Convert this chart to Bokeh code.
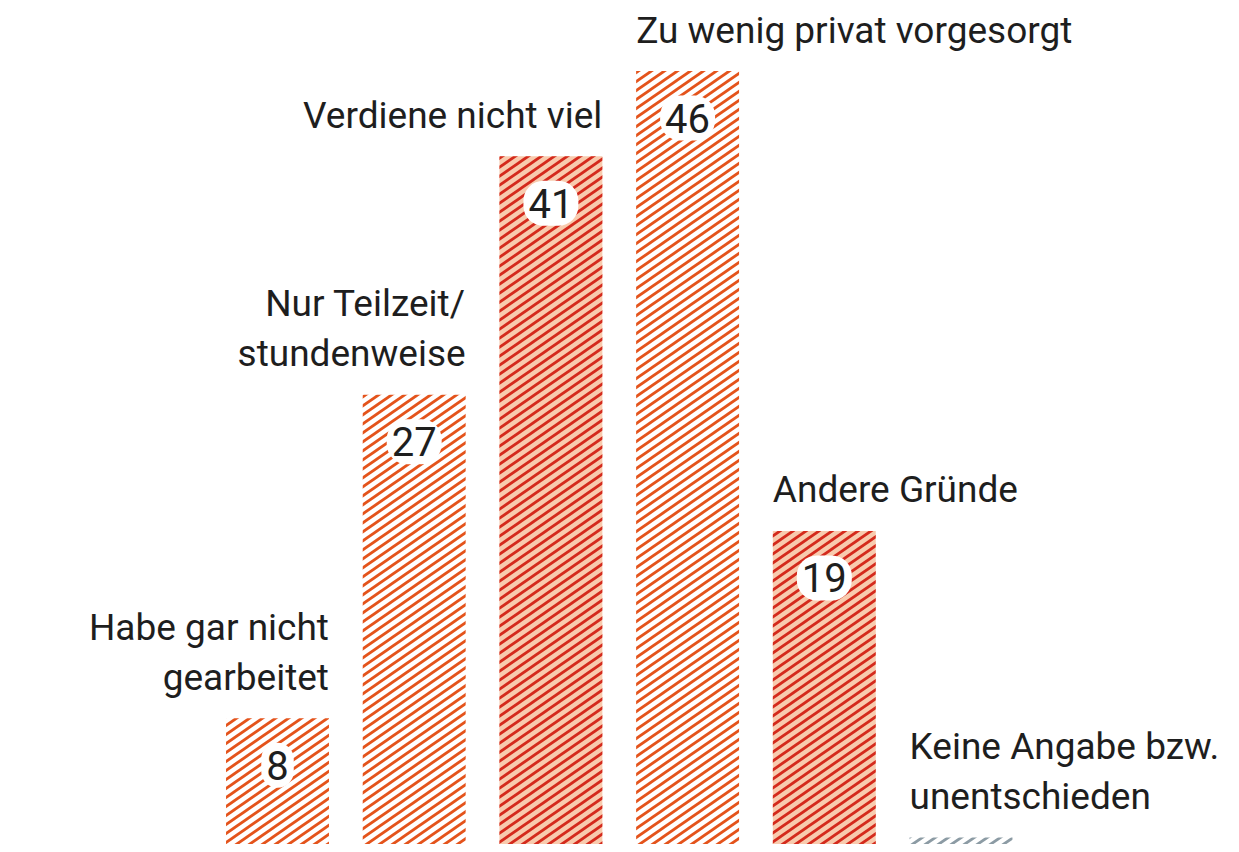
import base64
from bokeh.plotting import figure
from bokeh.models import ColumnDataSource, Range1d, ImageURLTexture
from bokeh.core.properties import value
from bokeh.embed import file_html
from bokeh.resources import INLINE

# ---- data ----
categories = [
    "Habe gar nicht\ngearbeitet",
    "Nur Teilzeit/\nstundenweise",
    "Verdiene nicht viel",
    "Zu wenig privat vorgesorgt",
    "Andere Gründe",
    "Keine Angabe bzw.\nunentschieden",
]
values = [8, 27, 41, 46, 19, 1]
value_labels = ["8", "27", "41", "46", "19", ""]

# ---- styles ----
patterns = ["o", "o", "r", "o", "r", "g"]
fill_colors = ["#ffffff", "#ffffff", "#f8cbae", "#ffffff", "#f8cbae", "#ffffff"]
pattern_colors = {"o": "#e4531b", "r": "#d42a1c", "g": "#8c9ba4"}
label_align = ["right", "right", "right", "left", "left", "left"]
FONT = "Roboto"
TEXT_COLOR = "#1e1e1e"
BAR_W = 0.753
PX_X = 136.7   # px per category step
PX_Y = 17.03   # px per value unit
W, H = 1231, 844
TW, TH, LW = 13, 9, 2.8   # hatch tile size and line width


def tile(color):
    lines = "".join(
        f'<line x1="{-TW}" y1="{TH + d + TH}" x2="{2 * TW}" y2="{d - TH}" '
        f'stroke="{color}" stroke-width="{LW}"/>'
        for d in (-TH, 0, TH)
    )
    svg = (f'<svg xmlns="http://www.w3.org/2000/svg" width="{TW}" height="{TH}" '
           f'viewBox="0 0 {TW} {TH}">{lines}</svg>')
    return "data:image/svg+xml;base64," + base64.b64encode(svg.encode()).decode()


textures = {k: ImageURLTexture(url=tile(c)) for k, c in pattern_colors.items()}

xs = list(range(len(values)))
src = ColumnDataSource(dict(x=xs, top=values, fill=fill_colors, pat=patterns))

p = figure(width=W, height=H, output_backend="svg", toolbar_location=None,
           x_range=Range1d(-277 / PX_X, (W - 277) / PX_X),
           y_range=Range1d((854 - H) / PX_Y, 854 / PX_Y),
           min_border=0, outline_line_color=None, background_fill_color="white",
           border_fill_color="white")
p.axis.visible = False
p.grid.visible = False

p.vbar(x="x", top="top", bottom=0, width=BAR_W, source=src,
       fill_color="fill", line_color=None,
       hatch_pattern="pat", hatch_extra=textures)

# category labels (one glyph per line)
lx, ly, lt, la, loff = [], [], [], [], []
for i, (cat, v, al) in enumerate(zip(categories, values, label_align)):
    lines = cat.split("\n")
    n = len(lines)
    for j, line in enumerate(lines):
        lx.append(i + BAR_W / 2 if al == "right" else i - BAR_W / 2)
        ly.append(v)
        lt.append(line)
        la.append(al)
        loff.append(-41 - 50 * (n - 1 - j))
lsrc = ColumnDataSource(dict(x=lx, y=ly, t=lt, a=la, off=loff))
p.text(x="x", y="y", text="t", source=lsrc, text_align="a", y_offset="off",
       text_baseline="alphabetic", text_font=value(FONT), text_font_size="37px",
       text_color=TEXT_COLOR)

# value labels inside bars
vsrc = ColumnDataSource(dict(x=xs, y=values, t=value_labels))
p.text(x="x", y="y", text="t", source=vsrc, text_align="center", y_offset=47,
       text_baseline="middle", text_font=value(FONT), text_font_size="40px",
       text_color=TEXT_COLOR, background_fill_color="white",
       padding=[5, 8], border_radius=20)

open("out.html", "w").write(file_html(p, INLINE))
